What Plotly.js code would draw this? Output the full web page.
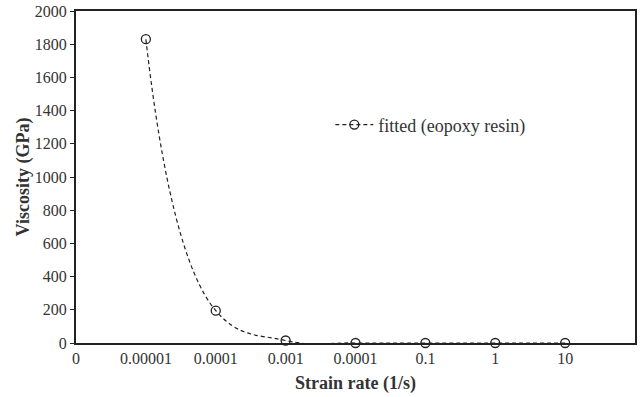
<!DOCTYPE html>
<html><head><meta charset="utf-8">
<script src="https://cdn.plot.ly/plotly-3.0.1.min.js"></script>
<style>body{margin:0;background:#fff}#c{width:643px;height:397px}</style>
</head><body><div id="c"></div>
<script>
const tickLabels = ["0","0.00001","0.0001","0.001","0.0001","0.1","1","10"];
const tickPositions = [0,1,2,3,4,5,6,7];
const xPos = [1,2,3,4,5,6,7];
const viscosity = [1830,195,15,0,0,0,0];
const seriesName = "fitted (eopoxy resin)";

const font = "Liberation Serif, Times New Roman, serif";
Plotly.newPlot("c", [{
  x: xPos, y: viscosity, name: seriesName, type: "scatter", mode: "lines+markers",
  line: {color: "#222", dash: "4px,3px", width: 1.2, shape: "spline", smoothing: 1.2},
  marker: {symbol: "circle-open", size: 9, color: "#222", line: {width: 1.3}},
  cliponaxis: false
}], {
  width: 643, height: 397,
  margin: {l: 76, r: 8, t: 11, b: 54},
  paper_bgcolor: "#fff", plot_bgcolor: "#fff",
  font: {family: font, color: "#333", size: 16},
  showlegend: true,
  legend: {x: 0.455, y: 0.657, xanchor: "left", yanchor: "middle", bgcolor: "rgba(0,0,0,0)",
           itemwidth: 38, font: {family: font, size: 18, color: "#333"}},
  xaxis: {range: [0, 8], tickvals: tickPositions, ticktext: tickLabels, showgrid: false, zeroline: false,
          showline: true, linecolor: "#222", linewidth: 2, mirror: true, ticks: "",
          tickfont: {family: font, size: 16, color: "#333"},
          title: {text: "<b>Strain rate (1/s)</b>", font: {family: font, size: 18, color: "#333"}, standoff: 10}},
  yaxis: {range: [0, 2000], dtick: 200, showgrid: false, zeroline: false,
          showline: true, linecolor: "#222", linewidth: 2, mirror: true, ticks: "outside", ticklen: 4, tickcolor: "#222",
          tickfont: {family: font, size: 16, color: "#333"},
          title: {text: "<b>Viscosity (GPa)</b>", font: {family: font, size: 18, color: "#333"}, standoff: 0}}
}, {displayModeBar: false, staticPlot: true});
</script></body></html>
